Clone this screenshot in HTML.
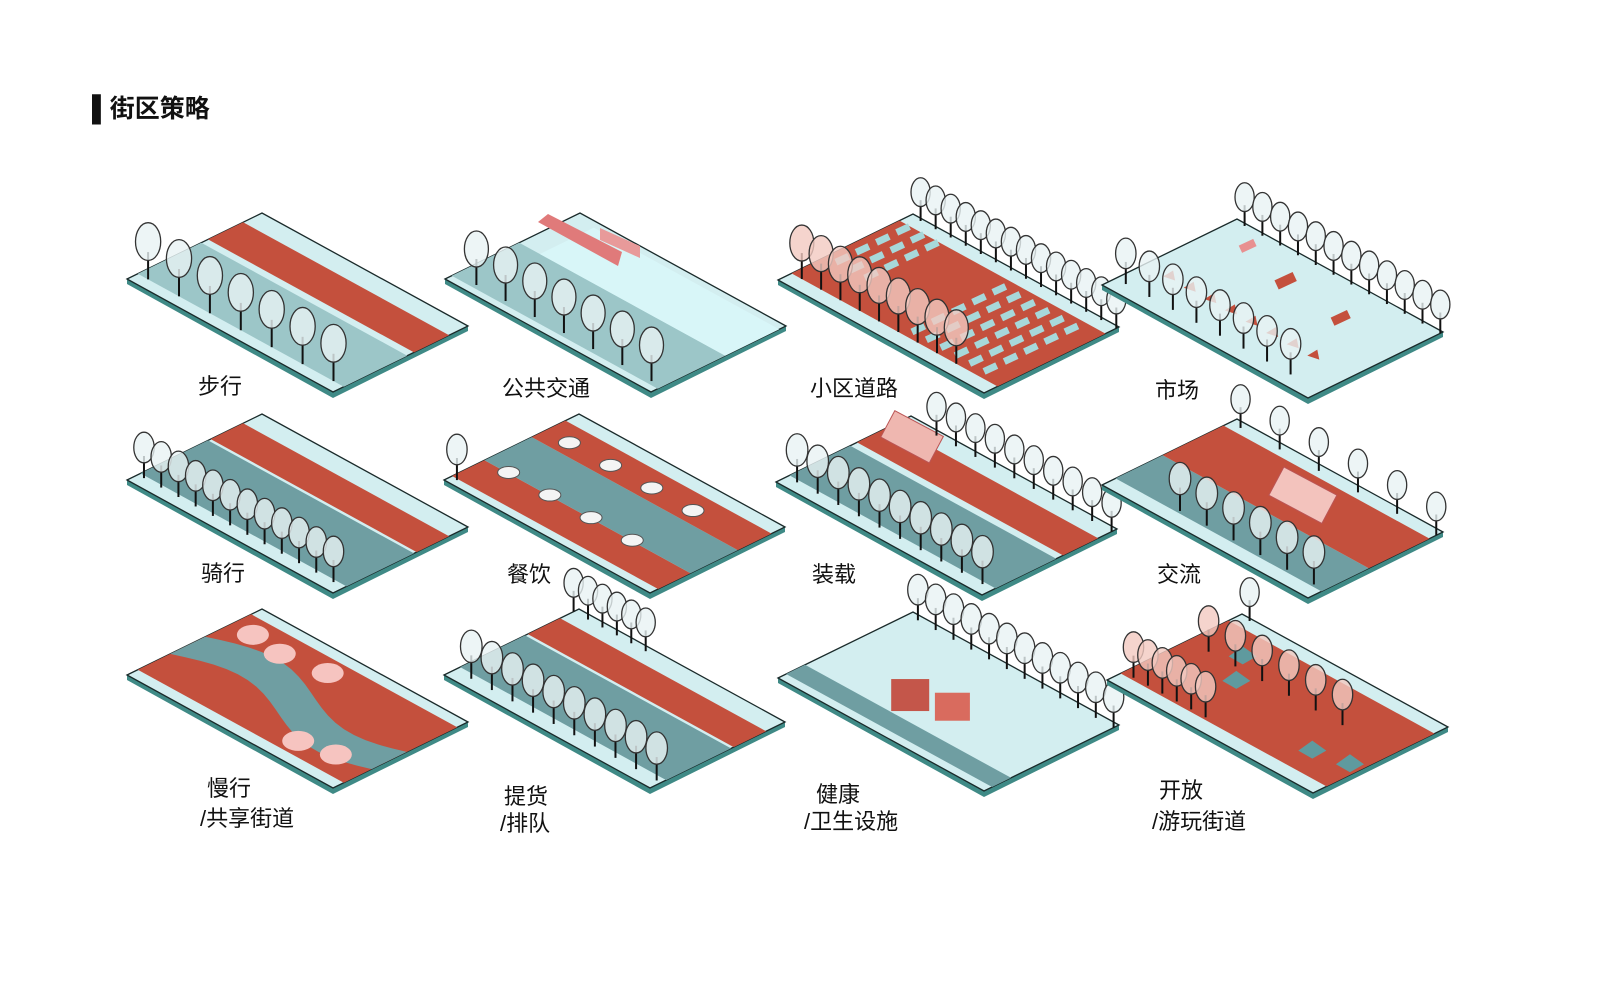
<!DOCTYPE html>
<html><head><meta charset="utf-8"><style>
body{margin:0;background:#fff;}
#wrap{position:relative;width:1600px;height:1000px;overflow:hidden;font-family:"Liberation Sans","Noto Sans CJK SC",sans-serif;}
.l{position:absolute;font-size:22px;color:#111;line-height:1;}
svg{position:absolute;left:0;top:0;}
</style></head><body><div id="wrap">
<svg id="s" width="1600" height="1000" xmlns="http://www.w3.org/2000/svg"></svg>
<div class="l" style="left:92px;top:97px;font-size:25px;font-weight:bold;">▌街区策略</div>
<div class="l" style="left:198px;top:376px">步行</div>
<div class="l" style="left:502px;top:378px">公共交通</div>
<div class="l" style="left:810px;top:378px">小区道路</div>
<div class="l" style="left:1155px;top:380px">市场</div>
<div class="l" style="left:201px;top:563px">骑行</div>
<div class="l" style="left:507px;top:564px">餐饮</div>
<div class="l" style="left:812px;top:564px">装载</div>
<div class="l" style="left:1157px;top:564px">交流</div>
<div class="l" style="left:207px;top:778px">慢行</div>
<div class="l" style="left:200px;top:808px">/共享街道</div>
<div class="l" style="left:504px;top:786px">提货</div>
<div class="l" style="left:500px;top:813px">/排队</div>
<div class="l" style="left:816px;top:784px">健康</div>
<div class="l" style="left:804px;top:811px">/卫生设施</div>
<div class="l" style="left:1159px;top:780px">开放</div>
<div class="l" style="left:1152px;top:811px">/游玩街道</div>
</div>
<script>
var S=document.getElementById('s'),h='';
var U=[206,113],V=[135,-66];
var LIGHT='#d3eef0',TEAL='#6f9ea2',RED='#c4503d',CY='#d8f6f8',TEAL2='#9cc6c8';
function P(L,s,t){return [L[0]+V[0]*s+U[0]*t,L[1]+V[1]*s+U[1]*t];}
function quad(L,s0,s1,t0,t1,f,extra){var a=P(L,s0,t0),b=P(L,s1,t0),c=P(L,s1,t1),d=P(L,s0,t1);
 h+='<polygon points="'+[a,b,c,d].map(p=>p.join(',')).join(' ')+'" fill="'+f+'" '+(extra||'')+'/>';}
function tile(L,stripes,trees,extra){
 var a=P(L,0,0),b=P(L,1,0),c=P(L,1,1),d=P(L,0,1);
 h+='<polygon points="'+a[0]+','+a[1]+' '+d[0]+','+d[1]+' '+c[0]+','+c[1]+' '+c[0]+','+(c[1]+5)+' '+d[0]+','+(d[1]+6)+' '+a[0]+','+(a[1]+5)+'" fill="#3f8a86"/>';
 quad(L,0,1,0,1,LIGHT,'stroke="#1a2a2a" stroke-width="1.3"');
 stripes.forEach(x=>quad(L,x[0],x[1],x[2]||0,x[3]||1,x[4]));
 if(extra)extra(L);
 trees.forEach(tr=>{var s=tr[0],n=tr[1],t0=tr[2],t1=tr[3],fill=tr[4]||'#e8f3f4',sc=tr[5]||1;
  for(var i=0;i<n;i++){var t=t0+(t1-t0)*i/(Math.max(n-1,1));var p=P(L,s,t);
   h+='<line x1="'+p[0]+'" y1="'+p[1]+'" x2="'+p[0]+'" y2="'+(p[1]-26*sc)+'" stroke="#111" stroke-width="2"/>';
   h+='<ellipse cx="'+p[0]+'" cy="'+(p[1]-36*sc)+'" rx="'+(12*sc)+'" ry="'+(18*sc)+'" fill="'+fill+'" fill-opacity="0.8" stroke="#333" stroke-width="1.3"/>';}});
}
function sq(L,s,t,f,w){var p=P(L,s,t);h+='<rect x="'+(p[0]-w)+'" y="'+(p[1]-w/2)+'" width="'+(2*w)+'" height="'+w+'" fill="'+f+'" transform="rotate(-25 '+p[0]+' '+p[1]+')"/>';}
// row1
tile([127,279],[[0.08,0.55,0,1,TEAL2],[0.6,0.86,0,1,RED]],[[0.08,7,0.05,0.95,'#e8f3f4',1.05]]);
tile([445,279],[[0.05,0.55,0,1,TEAL2],[0.55,0.95,0.1,1,CY]],[[0.08,7,0.1,0.95]],L=>{h+='<polygon points="538,222 548,214 622,252 618,266" fill="#e07a7a"/><polygon points="600,228 640,246 640,258 600,240" fill="#e89a9a"/>';});
tile([778,280],[[0.1,0.9,0,1,RED]],[[0.1,9,0.05,0.8,'#f2c9c0'],[0.98,14,0.05,1,'#e8f3f4',0.8]],L=>{for(var i=0;i<5;i++)for(var j=0;j<6;j++)sq(L,0.2+i*0.15,0.55+j*0.07,'#a7d8da',7);for(var i=0;i<4;i++)for(var j=0;j<3;j++)sq(L,0.4+i*0.15,0.05+j*0.07,'#a7d8da',7);});
tile([1102,285],[],[[0.1,8,0.05,0.85,'#e8f3f4',0.85],[0.98,12,0.05,1,'#e8f3f4',0.8]],L=>{for(var i=0;i<8;i++){var p=P(L,0.3,0.1*i+0.1);h+='<polygon points="'+p[0]+','+p[1]+' '+(p[0]+10)+','+(p[1]-6)+' '+(p[0]+12)+','+(p[1]+4)+'" fill="'+RED+'"/>';}sq(L,0.75,0.4,RED,10);sq(L,0.7,0.7,RED,9);sq(L,0.85,0.15,'#e89090',8);});
// row2
tile([127,480],[[0.1,0.6,0,1,TEAL],[0.62,0.86,0,1,RED]],[[0.08,12,0.03,0.95,'#e8f3f4',0.85]]);
tile([444,480],[[0.06,0.3,0,1,RED],[0.3,0.65,0,1,TEAL],[0.65,0.9,0,1,RED]],[[0.05,1,0.03,0.03,'#e8f3f4',0.85]],L=>{for(var i=0;i<4;i++){[0.25,0.7].forEach(s=>{var p=P(L,s,0.15+i*0.2);h+='<ellipse cx="'+p[0]+'" cy="'+(p[1]-8)+'" rx="11" ry="6" fill="#f4f4f4" stroke="#555"/>';});}});
tile([776,482],[[0.1,0.55,0,1,TEAL],[0.6,0.86,0,1,RED]],[[0.08,10,0.05,0.95,'#e8f3f4',0.9],[0.96,10,0.15,1,'#e8f3f4',0.8]],L=>{var p=P(L,0.75,0.15);h+='<rect x="'+(p[0]-30)+'" y="'+(p[1]-28)+'" width="55" height="30" fill="#efb7b0" stroke="#b55" transform="rotate(28 '+p[0]+' '+p[1]+')"/>';});
tile([1102,485],[[0.1,0.45,0,1,TEAL],[0.45,0.9,0,1,RED]],[[0.12,6,0.3,0.95,'#e8f3f4',0.9],[0.95,6,0.05,1,'#e8f3f4',0.8]],L=>{var p=P(L,0.6,0.55);h+='<rect x="'+(p[0]-30)+'" y="'+(p[1]-30)+'" width="60" height="32" fill="#f3c3bd" stroke="#b55" transform="rotate(28 '+p[0]+' '+p[1]+')"/>';});
// row3
tile([127,675],[[0.08,0.92,0,1,RED]],[],L=>{var pts=[];for(var i=0;i<=20;i++){var t=i/20;var s=0.45+0.12*Math.sin(t*6);pts.push(P(L,s-0.13,t));}for(var i=20;i>=0;i--){var t=i/20;var s=0.45+0.12*Math.sin(t*6);pts.push(P(L,s+0.13,t));}h+='<polygon points="'+pts.map(p=>p.join(',')).join(' ')+'" fill="'+TEAL+'"/>';[[0.75,0.25],[0.8,0.45],[0.2,0.7],[0.25,0.85],[0.78,0.1]].forEach(q=>{var p=P(L,q[0],q[1]);h+='<ellipse cx="'+p[0]+'" cy="'+p[1]+'" rx="16" ry="10" fill="#f6c4c0"/>';});});
tile([444,675],[[0.12,0.6,0,1,TEAL],[0.62,0.86,0,1,RED]],[[0.08,10,0.08,0.98,'#e8f3f4',0.9],[0.96,6,0,0.35,'#e8f3f4',0.8]]);
tile([778,678],[[0.06,0.2,0,1,TEAL]],[[0.96,12,0.05,1,'#e8f3f4',0.85]],L=>{var p=P(L,0.3,0.45);h+='<rect x="'+(p[0]-20)+'" y="'+(p[1]-30)+'" width="38" height="32" fill="#c4564a"/>';p=P(L,0.38,0.6);h+='<rect x="'+(p[0]-18)+'" y="'+(p[1]-28)+'" width="35" height="28" fill="#d96b5e"/>';});
tile([1107,680],[[0.1,0.9,0,1,RED]],[[0.12,6,0.05,0.4,'#f2c9c0',0.85],[0.6,6,0.1,0.75,'#f2c9c0',0.85],[0.98,1,0.05,0.05,'#e8f3f4',0.8]],L=>{[[0.7,0.2],[0.3,0.8],[0.35,0.95],[0.5,0.3]].forEach(q=>{var p=P(L,q[0],q[1]);h+='<polygon points="'+(p[0]-14)+','+p[1]+' '+p[0]+','+(p[1]-10)+' '+(p[0]+14)+','+p[1]+' '+p[0]+','+(p[1]+8)+'" fill="#5f9a9e"/>';});});
S.innerHTML=h;
</script></body></html>
